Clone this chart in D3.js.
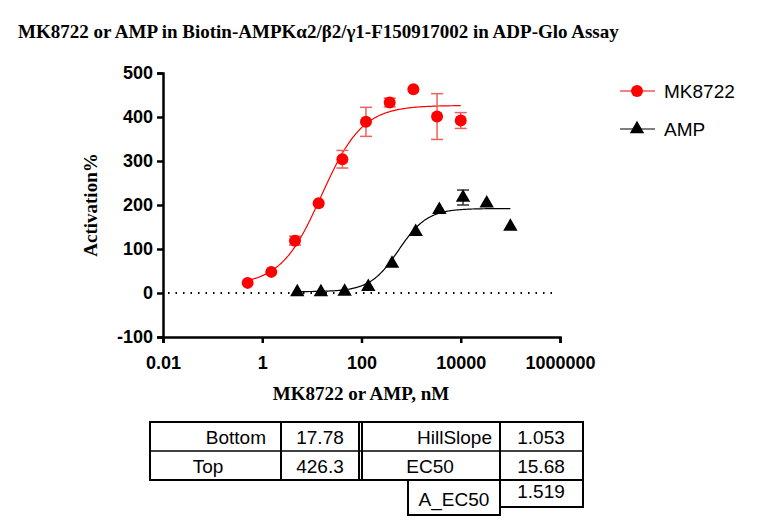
<!DOCTYPE html><html><head><meta charset="utf-8"><script src="https://cdn.jsdelivr.net/npm/d3@7"></script>
<style>body{margin:0;background:#fff}</style></head><body><svg id="c" width="767" height="529"></svg><script>
const mkX=[0.508,1.52,4.57,13.7,41.2,123,370,1111,3333,10000];
const mkY=[23,48,119,204,304,389,433,463,401,392];
const mkE=[0,0,10,0,20,33,10,0,52,18];
const ampX=[5.08,15.2,45.7,137,412,1235,3704,11111,33333,100000];
const ampY=[2,2,3,14,67,139,189,217,204,151];
const ampE=[0,0,0,0,0,0,0,17,0,0];
const mkFit={bottom:17.78,top:426.3,ec50:15.68,hill:1.053};
const ampFit={bottom:3,top:192,ec50:560,hill:1.5};
const xTicks=[0.01,1,100,10000,1000000];
const xTickLabels=["0.01","1","100","10000","1000000"];
const yTicks=[-100,0,100,200,300,400,500];
const tableRows=[["Bottom","17.78","HillSlope","1.053"],["Top","426.3","EC50","15.68"]];
const extraRow=["A_EC50","1.519"];
const svg=d3.select("#c");
const x=d3.scaleLog().domain([0.01,1e6]).range([163,560]);
const y=d3.scaleLinear().domain([-100,500]).range([337,73]);
svg.append("text").attr("x",18).attr("y",38).attr("font-family","Liberation Serif").attr("font-weight","bold").attr("font-size",19).text("MK8722 or AMP in Biotin-AMPKα2/β2/γ1-F150917002 in ADP-Glo Assay");
const xa=svg.append("g").attr("transform","translate(0,337)").call(d3.axisBottom(x).tickValues(xTicks).tickFormat((d,i)=>xTickLabels[i]).tickSizeOuter(0).tickSize(6));
const ya=svg.append("g").attr("transform","translate(163,0)").call(d3.axisLeft(y).tickValues(yTicks).tickFormat(d=>String(d)).tickSizeOuter(0).tickSize(6));
[xa,ya].forEach(a=>{a.selectAll("path,line").attr("stroke","#000").attr("stroke-width",2.5);a.selectAll("text").attr("font-family","Liberation Sans").attr("font-weight","bold").attr("font-size",18).attr("fill","#000");});
xa.selectAll("text").attr("dy","1.25em");
ya.selectAll("text").attr("x",-10);
svg.append("text").attr("x",361).attr("y",400).attr("text-anchor","middle").attr("font-family","Liberation Serif").attr("font-weight","bold").attr("font-size",19).text("MK8722 or AMP, nM");
svg.append("text").attr("transform","translate(97,205) rotate(-90)").attr("text-anchor","middle").attr("font-family","Liberation Serif").attr("font-weight","bold").attr("font-size",19).text("Activation%");
svg.append("line").attr("x1",168).attr("x2",556).attr("y1",y(0)).attr("y2",y(0)).attr("stroke","#000").attr("stroke-width",2).attr("stroke-dasharray","1.5,6");
function curve(f,x0,x1,col){const pts=d3.range(0,201).map(i=>{const lx=Math.log10(x0)+(Math.log10(x1)-Math.log10(x0))*i/200;const xv=10**lx;return [x(xv),y(f.bottom+(f.top-f.bottom)/(1+(f.ec50/xv)**f.hill))];});
svg.append("path").attr("d",d3.line()(pts)).attr("fill","none").attr("stroke",col).attr("stroke-width",1.2);}
curve(mkFit,mkX[0],mkX[9],"#f00");curve(ampFit,ampX[0],ampX[9],"#000");
function errs(xs,ys,es,col){xs.forEach((xv,i)=>{if(!es[i])return;const g=svg.append("g").attr("stroke",col).attr("stroke-width",1.5);const cx=x(xv);g.append("line").attr("x1",cx).attr("x2",cx).attr("y1",y(ys[i]-es[i])).attr("y2",y(ys[i]+es[i]));[ys[i]-es[i],ys[i]+es[i]].forEach(v=>g.append("line").attr("x1",cx-6).attr("x2",cx+6).attr("y1",y(v)).attr("y2",y(v)));});}
errs(mkX,mkY,mkE,"#f06060");errs(ampX,ampY,ampE,"#333");
svg.selectAll(".mk").data(mkX).enter().append("circle").attr("cx",d=>x(d)).attr("cy",(d,i)=>y(mkY[i])).attr("r",6).attr("fill","#f00");
const tri=d3.symbol().type(d3.symbolTriangle).size(90);
svg.selectAll(".amp").data(ampX).enter().append("path").attr("d",tri).attr("transform",(d,i)=>`translate(${x(d)},${y(ampY[i])})`).attr("fill","#000");
svg.append("line").attr("x1",620).attr("x2",655).attr("y1",91).attr("y2",91).attr("stroke","#f00").attr("stroke-width",1.2);
svg.append("circle").attr("cx",637).attr("cy",91).attr("r",6).attr("fill","#f00");
svg.append("text").attr("x",664).attr("y",98).attr("font-family","Liberation Sans").attr("font-size",19).text("MK8722");
svg.append("line").attr("x1",620).attr("x2",655).attr("y1",129).attr("y2",129).attr("stroke","#000").attr("stroke-width",1.2);
svg.append("path").attr("d",tri).attr("transform","translate(637,129)");
svg.append("text").attr("x",664).attr("y",136).attr("font-family","Liberation Sans").attr("font-size",19).text("AMP");
const rowY=[422,451,480];
const tg=svg.append("g").attr("font-family","Liberation Sans").attr("font-size",19);
tg.append("rect").attr("x",150).attr("y",422).attr("width",433).attr("height",58).attr("fill","none").attr("stroke","#000").attr("stroke-width",2);
tg.append("line").attr("x1",150).attr("x2",583).attr("y1",451).attr("y2",451).attr("stroke","#000").attr("stroke-width",1.5);
[281,359,362,500].forEach(cx=>tg.append("line").attr("x1",cx).attr("x2",cx).attr("y1",422).attr("y2",480).attr("stroke","#000").attr("stroke-width",2));
const anchors=[[266,"end"],[320,"middle"],[492,"end"],[541,"middle"]];
tableRows.forEach((r,ri)=>r.forEach((t,ci)=>{let ax=anchors[ci][0],an=anchors[ci][1];if(ri==1&&ci==0){ax=208;an="middle";}if(ri==1&&ci==2){ax=430;an="middle";}
tg.append("text").attr("x",ax).attr("y",rowY[ri]+22).attr("text-anchor",an).text(t);}));
tg.append("rect").attr("x",408).attr("y",480).attr("width",92).attr("height",35).attr("fill","none").attr("stroke","#000").attr("stroke-width",2);
tg.append("rect").attr("x",500).attr("y",480).attr("width",83).attr("height",27).attr("fill","none").attr("stroke","#000").attr("stroke-width",2);
tg.append("text").attr("x",454).attr("y",506).attr("text-anchor","middle").text(extraRow[0]);
tg.append("text").attr("x",541).attr("y",498).attr("text-anchor","middle").text(extraRow[1]);
</script></body></html>
